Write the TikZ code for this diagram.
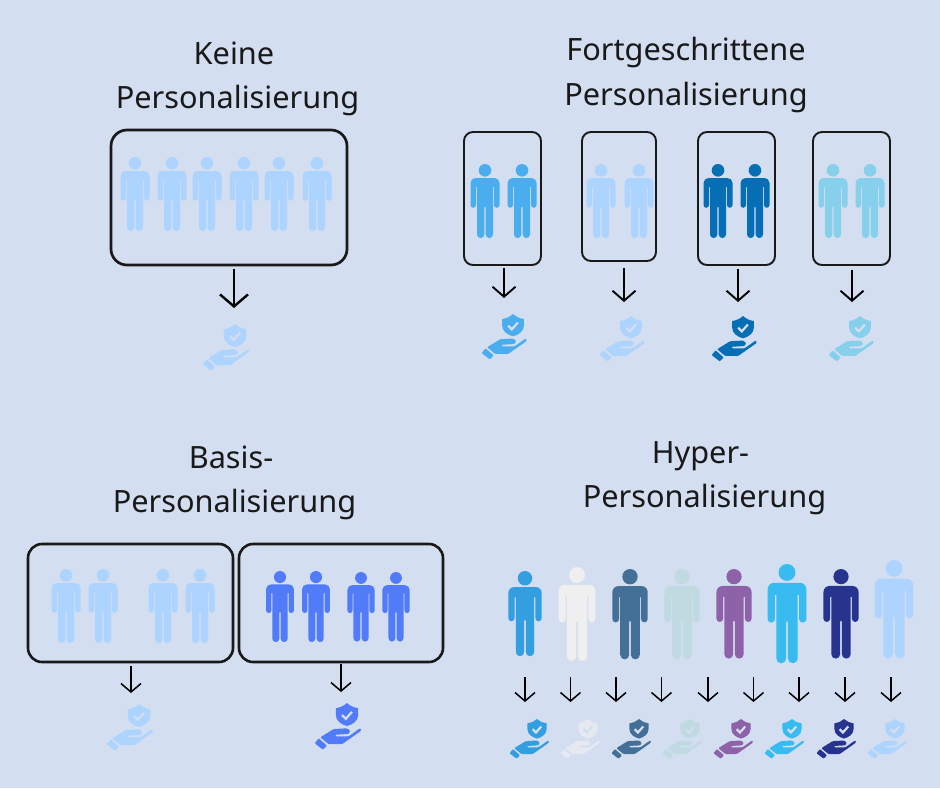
\documentclass[tikz,border=0pt]{standalone}
\usepackage{fontspec}
\setmainfont{Noto Sans}
\usetikzlibrary{arrows.meta}
\definecolor{bgblue}{RGB}{211,222,241}
\definecolor{paleblue}{RGB}{173,212,255}
\definecolor{skyblue}{RGB}{74,174,238}
\definecolor{deepblue}{RGB}{5,110,180}
\definecolor{aqua}{RGB}{134,208,235}
\definecolor{royal}{RGB}{81,123,248}
\definecolor{hypera}{RGB}{51,159,224}
\definecolor{hyperb}{RGB}{239,239,239}
\definecolor{hyperc}{RGB}{68,112,152}
\definecolor{hyperd}{RGB}{191,218,224}
\definecolor{hypere}{RGB}{142,98,168}
\definecolor{hyperf}{RGB}{55,187,240}
\definecolor{hyperg}{RGB}{38,52,142}
\definecolor{iconb}{RGB}{230,233,240}
\tikzset{
  every pic/.style={yscale=-1},
  titletext/.style={align=center,text=black!90,font=\fontsize{30.7}{44.5}\selectfont},
  groupbox/.style={draw=black!90,rounded corners=#1,inner sep=0pt},
  bigarrow/.style={line width=2.4pt,-{Straight Barb[width=28pt,length=12pt]}},
  midarrow/.style={line width=1.9pt,-{Straight Barb[width=23pt,length=10pt]}},
  smallarrow/.style={line width=1.5pt,-{Straight Barb[width=20pt,length=8.5pt]}},
  person/.pic={
    \path[pic actions] (0,6.3) circle[radius=6.3];
    \path[pic actions] (-14.5,19) arc[start angle=180,end angle=270,radius=5] -- (9.5,14)
      arc[start angle=270,end angle=360,radius=5] -- (14.5,41)
      arc[start angle=0,end angle=180,radius=2.75] -- (9,23) -- (8,23) -- (8,70.4)
      arc[start angle=0,end angle=180,radius=3.65] -- (0.7,43) -- (-0.7,43) -- (-0.7,70.4)
      arc[start angle=0,end angle=180,radius=3.65] -- (-8,23) -- (-9,23) -- (-9,41)
      arc[start angle=0,end angle=180,radius=2.75] -- cycle;
  },
  careicon/.pic={
    % shield
    \path[pic actions] (0,0) .. controls (3,2.8) and (7,4.6) .. (11.2,5.2) -- (11.2,12)
      .. controls (11.2,17.5) and (6,21.5) .. (0,23) .. controls (-6,21.5) and (-11.2,17.5) .. (-11.2,12)
      -- (-11.2,5.2) .. controls (-7,4.6) and (-3,2.8) .. (0,0) -- cycle;
    \draw[bgblue,line width=2.2pt] (-5,12) -- (-1.2,15.8) -- (5,8.8);
    % hand
    \path[pic actions,rounded corners=1pt] (-26.7,34.3) -- (-13.3,26) -- (0,25.3) -- (3.3,27.7) -- (1.7,31)
      -- (-11.7,31.7) -- (-11.7,33.3) -- (1.7,33.3) -- (13.4,25) -- (14.2,27.7) -- (-5,41.2) -- (-18.3,41.2) -- cycle;
    \path[pic actions,rounded corners=0.8pt] (-32.3,40.3) -- (-28.3,35.3) -- (-20,42.7) -- (-24,46.7) -- cycle;
  }
}
\begin{document}
\begin{tikzpicture}[x=1pt,y=1pt,yscale=-1]
    \fill[bgblue] (0,0) rectangle (940,788);
    % titles
    \node[titletext] (keine) at (237.5,79) {Keine\hspace*{7pt}\\Personalisierung};
    \node[titletext] (fort) at (686,75) {Fortgeschrittene\\Personalisierung};
    \node[titletext] (basis) at (234.5,483) {Basis-\hspace*{7pt}\\Personalisierung};
    \node[titletext] (hyper) at (704.5,478) {Hyper-\hspace*{8pt}\\Personalisierung};
    % boxes
    \foreach \n/\x/\y/\w/\h/\r/\l in {
      kbox/229/197.5/236/135/16pt/2.7pt,
      fboxa/502.5/198.5/77/133/9pt/1.9pt,
      fboxb/619/196.5/74/129/9pt/1.9pt,
      fboxc/736.5/198.5/77/133/9pt/1.9pt,
      fboxd/851.5/198.5/77/133/9pt/1.9pt,
      bboxa/130.5/603/205/118/14pt/2.6pt,
      bboxb/341/603/204/118/14pt/2.6pt}
    \node[groupbox=\r,line width=\l,minimum width=\w pt,minimum height=\h pt] (\n) at (\x,\y) {};
    % people, same size
    \foreach \x/\y/\c in {135/157/paleblue,172/157/paleblue,207/157/paleblue,244/157/paleblue,279/157/paleblue,317/157/paleblue,
      485/164/skyblue,522/164/skyblue,601/164/paleblue,639/164/paleblue,718/164/deepblue,755/164/deepblue,833/164/aqua,870/164/aqua,
      66/569/paleblue,103/569/paleblue,163/569/paleblue,200/569/paleblue}
    \pic[fill=\c] at (\x,\y) {person};
    \foreach \x/\y/\s/\c in {280/571/0.96/royal,316/571/0.96/royal,361/572/0.94/royal,396/572/0.94/royal,
      525/571/1.15/hypera,577/567/1.27/hyperb,630/569/1.22/hyperc,682/569/1.22/hyperd,
      734/569/1.21/hypere,787/564/1.34/hyperf,841/569/1.21/hyperg,894/560/1.33/paleblue}
    \pic[fill=\c,scale=\s] at (\x,\y) {person};
    % arrows
    \coordinate (ka) at (234,269);
    \coordinate (kb) at (234,308);
    \draw[bigarrow] (ka) -- (kb);
    \foreach \n/\x/\y/\e in {fa/504/268/298,fb/624/268/302,fc/738/269/302,fd/852/270/302}{
      \coordinate (\n a) at (\x,\y);
      \coordinate (\n b) at (\x,\e);
      \draw[midarrow] (\n a) -- (\n b);
    }
    \foreach \n/\x/\y/\e in {ba/131/666/693,bb/341/664/692,ha/525/677/702,hb/570.5/677/702,hc/616/677/702,
      hd/661.5/677/702,he/708/677/702,hf/753.5/677/702,hg/799/677/702,hh/845/677/702,hi/891/677/702}{
      \coordinate (\n a) at (\x,\y);
      \coordinate (\n b) at (\x,\e);
      \draw[smallarrow] (\n a) -- (\n b);
    }
    % icons
    \foreach \x/\y/\s/\c in {235/324/1/paleblue,
      513/314/0.97/skyblue,631/316/0.97/paleblue,743/316/0.97/deepblue,860/316/0.97/aqua,
      139/704/1/paleblue,347/703/1/royal,
      537/719/0.85/hypera,588/719/0.85/iconb,639/719/0.85/hyperc,690/719/0.85/hyperd,
      741/719/0.85/hypere,792/719/0.85/hyperf,844/719/0.85/hyperg,895/719/0.85/paleblue}
    \pic[fill=\c,scale=\s] at (\x,\y) {careicon};
\end{tikzpicture}
\end{document}
